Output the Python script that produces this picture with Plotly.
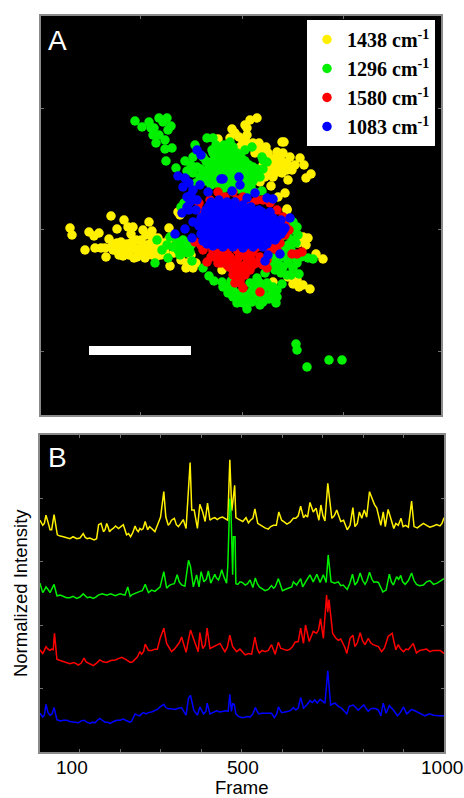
import plotly.graph_objects as go

# Panel A: emission-site positions (arbitrary image units)
sites_1438 = [(29,187),(31,180),(44,165),(48,183),(53,179),(58,182),(54,167),(60,167),(65,158),(68,176),(70,199),(83,195),(76,186),(87,188),(92,188),(108,193),(90,181),(105,180),(111,184),(128,187),(72,165),(76,172),(82,168),(82,159),(89,165),(93,157),(91,173),(99,167),(106,170),(104,157),(111,160),(117,177),(129,149),(109,165),(74,165),(96,165),(102,163),
 (78,164),(85,162),(92,168),(99,160),(106,163),(113,168),(118,165),(122,172),(120,160),(115,158),(95,175),(100,175),(86,171),(78,160),(70,168),(64,167),(74,171),(80,173),(88,160),(96,158),(110,172),(116,170),(124,163),(128,176),(132,180),(112,178),(102,185),
 (275,161),(282,156),(269,126),(262,130),(252,131),(256,135),(247,138),(267,177),(262,178),(257,172),(246,205),(146,152),(152,147),(137,203),(139,200),(181,145),(232,133),(125,170),(133,162),(140,155),(150,160),(145,147),(155,152),(260,175),(265,170),(258,128),
 (216,297),(209,295),(204,290),(206,287),(191,286),(194,282),(206,280),(177,276),(189,277),(202,273),(243,273),(241,273),(211,268),(199,268),(219,265),(227,262),(236,263),(242,262),(259,257),(249,258),(263,250),(254,250),(270,241),(265,237),(247,235),(229,243),(232,238),(241,242),(246,252),(236,252),(230,229),(244,222),(237,218),(246,206),(219,233),(212,272),(234,257),(226,245),(239,248),
 (222,258),(228,254),(233,248),(240,255),(246,245),(251,245),(224,238),(214,262),(206,272),(218,272),(198,278),(225,268),(236,243),(243,248),(222,250)]
sites_1296 = [(94,294),(101,288),(108,293),(113,287),(118,297),(126,297),(130,289),(127,285),(112,280),(115,272),(124,275),(131,267),(124,266),(125,254),(135,247),(154,270),(166,277),(172,277),(110,287),(122,293),(118,280),
 (175,270),(183,270),(189,273),(172,262),(180,262),(188,262),(196,262),(165,254),(172,254),(180,254),(188,254),(196,254),(204,254),(160,246),(168,246),(176,246),(184,246),(192,246),(200,246),(208,246),(216,246),(160,238),(168,238),(176,238),(184,238),(192,238),(200,238),(208,238),(216,238),(170,230),(178,230),(186,230),(194,230),(202,230),(210,230),(205,222),(215,222),
 (186,266),(192,268),(176,266),(184,258),(192,258),(176,258),(200,258),(168,250),(176,250),(184,250),(192,250),(200,250),(208,250),(164,242),(172,242),(180,242),(188,242),(196,242),(204,242),(212,242),(164,234),(172,234),(180,234),(188,234),(196,234),(204,234),(212,234),(182,226),(190,226),(198,226),(206,226),
 (144,254),(152,258),(156,248),(152,242),(159,238),(171,265),(162,258),(222,255),(221,258),(226,253),(219,238),(212,248),(204,265),(211,268),(211,225),(221,224),(150,250),(146,244),(155,232),(222,246),
 (256,188),(257,180),(252,185),(251,175),(242,168),(234,155),(242,158),(251,158),(242,148),(252,147),(234,145),(258,141),(241,131),(267,157),(272,156),(229,150),(246,140),(250,165),(240,178),(247,195),
 (247,170),(255,172),(245,163),(237,160),(229,158),(247,152),(256,152),(260,158),(238,150),(246,180),(252,193),(240,142),(250,140),(224,142),
 (162,147),(168,139),(173,134),(181,133),(182,128),(187,122),(192,118),(196,112),(202,112),(206,106),(211,113),(219,110),(222,113),(235,112),(236,118),(231,122),(226,132),(219,132),(209,132),(209,122),(199,122),(222,122),(216,118),(206,117),(229,128),(216,137),(192,125),
 (186,128),(192,130),(198,116),(204,120),(212,126),(216,126),(224,128),(228,116),(226,118),(214,132),(232,128),(236,125),(206,112),(190,134),
 (116,175),(121,165),(126,170),(114,152),(127,157),(136,173),(142,175),(129,178),(137,165),(146,162),(151,154),(149,163),(139,160),(146,172),(140,208),(143,212),(142,168),(132,168),(150,170),
 (255,71),(256,65),(288,55),(301,55),(266,48)]
sites_1580 = [(177,223),(192,223),(169,215),(202,218),(216,215),(229,212),(242,198),(184,218),(210,212),(167,207),(169,202),(236,205),(158,205),(160,195),
 (199,132),(202,127),(219,123),(194,132),(251,161),(256,161),(261,163),(226,147),(166,153),(177,152),(186,150),(192,145),(199,142),(209,145),(216,152),(202,148),(189,158),(176,162),(162,165),(206,157),(219,158),(196,153),(182,157),(239,172),(244,180),(236,165),(154,173),(199,135),(170,158),(226,155),(212,163),(196,165),(182,165),(168,170),
 (160,170),(172,164),(180,152),(188,148),(196,148),(204,140),(212,150),(222,150),(192,140),(174,158),(186,164),(204,164),(216,168),(228,165),(230,170),(234,172),(198,158),(210,156),(190,152),(204,150),(248,185),(244,190),(158,212),(222,215),(176,210),(196,215)]
sites_1083 = [(146,218),(152,225),(159,230),(167,223),(156,265),(160,260),(137,239),(144,237),(142,228),(182,236),(198,238),(199,230),(191,224),(214,222),(206,217),(226,217),(232,216),(249,197),(149,213),(141,202),(146,208),(156,215),(134,181),(151,177),(144,186),(152,193),(239,161),(224,154),(227,160),(180,236),(148,232),(150,220),(155,205),(148,205),
 (170,213),(178,215),(186,213),(194,213),(202,210),(210,208),(218,205),(165,205),(173,205),(181,205),(189,205),(197,205),(205,203),(213,200),(221,203),(229,203),
 (160,197),(168,197),(176,197),(184,197),(192,197),(200,197),(208,197),(216,197),(224,197),(232,197),(240,195),
 (158,189),(166,189),(174,189),(182,189),(190,189),(198,189),(206,189),(214,189),(222,189),(230,189),(238,189),(244,187),
 (160,181),(168,181),(176,181),(184,181),(192,181),(200,181),(208,181),(216,181),(224,181),(232,181),(240,181),
 (162,174),(170,174),(178,174),(186,174),(194,174),(202,174),(210,174),(218,174),(226,174),(234,175),
 (172,169),(182,168),(192,168),(202,167),(212,168),(222,168),
 (168,209),(176,209),(184,209),(192,209),(200,206),(208,204),(216,201),(164,201),(172,201),(180,201),(188,201),(196,201),(204,199),(212,193),(220,193),(228,193),(236,193),(164,193),(172,193),(180,193),(188,193),(196,193),(204,193),
 (162,185),(170,185),(178,185),(186,185),(194,185),(202,185),(210,185),(218,185),(226,185),(234,185),(242,184),(164,178),(172,178),(180,178),(188,178),(196,178),(204,178),(212,178),(220,178),(228,178),(236,178),(166,171),(176,171),(186,171),(196,171),(206,171),(216,171),(226,171)]
scale_bar_x = [48, 150]
scale_bar_y = [60, 69]

legend_names = ["1438 cm<sup>-1</sup>", "1296 cm<sup>-1</sup>", "1580 cm<sup>-1</sup>", "1083 cm<sup>-1</sup>"]
colors = ["#fff000", "#00f000", "#ff0000", "#0000ff"]

# Panel B: spectra (frame, normalized intensity with vertical offsets)
frames_yellow = [2,9,17,27,31,37,45,60,76,93,109,119,130,142,147,153,159,167,174,183,196,208,216,226,237,245,253,262,268,278,286,295,300,308,313,319,327,334,344,356,363,369,373,377,383,391,397,404,410,416,422,434,447,459,466,471,476,483,486,496,511,517,528,533,540,550,566,579,586,592,599,612,628,640,646,653,663,669,677,684,691,696,706,713,723,735,745,752,761,768,775,780,791,797,803,809,816,823,834,844,850,855,862,868,876,887,894,899,912,920,926,942,957,974,990,1000]
yellow = [3.65,3.57,3.73,3.5,3.5,3.74,3.42,3.39,3.36,3.36,3.44,3.36,3.35,3.36,3.58,3.6,3.47,3.6,3.47,3.52,3.52,3.58,3.42,3.39,3.56,3.47,3.5,3.63,3.5,3.52,3.47,3.63,3.7,4.1,3.7,3.57,3.65,3.68,3.55,3.66,3.52,4.26,4.56,3.81,3.81,3.52,3.9,3.78,3.63,3.92,3.65,3.69,3.69,3.68,3.65,4.6,3.8,4.2,3.69,3.65,3.69,3.61,3.68,3.83,3.6,3.56,3.51,3.57,3.57,3.78,3.65,3.59,3.68,3.72,3.87,3.69,3.7,3.93,3.78,3.84,3.65,3.89,3.64,4.23,3.68,3.81,3.63,3.65,3.5,3.57,3.85,3.55,3.78,3.68,3.81,3.7,4.1,3.99,3.84,3.57,3.78,3.55,3.82,3.68,3.52,3.57,3.68,3.55,3.54,3.95,3.55,3.57,3.57,3.56,3.56,3.69]
frames_yellow_fine = [13,22,52,68,84,101,114,125,136,163,170,178,189,202,212,221,231,241,249,257,273,282,291,323,339,350,428,440,453,491,503,522,545,558,572,606,620,634,658,701,729,740,786,828,839,881,905,934,949,965,982,995]
yellow_fine = [3.6,3.62,3.4,3.38,3.39,3.37,3.38,3.37,3.34,3.5,3.55,3.5,3.56,3.55,3.5,3.44,3.45,3.5,3.52,3.52,3.55,3.5,3.55,3.6,3.58,3.6,3.68,3.66,3.7,3.67,3.63,3.65,3.58,3.53,3.55,3.62,3.62,3.68,3.73,3.72,3.72,3.7,3.6,3.9,3.7,3.6,3.57,3.53,3.6,3.54,3.58,3.6]
frames_green = [2,9,17,27,37,44,60,76,93,109,119,134,146,167,188,212,219,225,237,249,262,270,286,299,308,315,327,341,352,360,369,374,381,389,395,400,407,418,424,434,443,451,463,466,471,474,478,480,484,486,496,509,521,528,534,544,558,574,583,591,601,624,628,646,651,669,677,686,694,702,709,714,721,739,751,761,774,780,793,805,816,827,838,849,857,865,875,883,893,904,920,932,949,965,983,1000]
green = [2.66,2.51,2.6,2.51,2.64,2.46,2.45,2.43,2.42,2.49,2.43,2.42,2.47,2.47,2.46,2.47,2.6,2.45,2.5,2.53,2.64,2.51,2.53,2.6,2.84,2.58,2.64,2.79,2.63,2.61,3.02,2.92,2.6,2.79,2.6,2.84,2.68,2.85,2.66,2.8,2.71,2.87,2.66,2.92,3.99,3.78,2.79,3.39,3.39,2.65,2.68,2.63,2.71,2.59,2.74,2.6,2.54,2.62,2.6,2.73,2.54,2.6,2.68,2.73,2.6,2.79,2.68,2.8,2.67,2.79,2.67,3.1,2.68,2.68,2.63,2.56,2.8,2.63,2.82,2.64,2.83,2.67,2.67,2.52,2.55,2.8,2.63,2.76,2.78,2.64,2.82,2.64,2.63,2.7,2.66,2.73]
frames_green_fine = [13,22,52,68,84,101,126,140,156,177,200,230,243,255,278,292,321,334,346,413,429,438,447,457,491,502,515,539,551,566,579,596,612,636,660,730,745,767,786,799,810,822,832,843,870,888,898,912,926,940,957,974,991]
green_fine = [2.55,2.56,2.47,2.43,2.45,2.44,2.44,2.44,2.49,2.49,2.49,2.48,2.52,2.54,2.55,2.56,2.62,2.65,2.68,2.72,2.72,2.74,2.78,2.75,2.64,2.67,2.65,2.65,2.57,2.56,2.58,2.63,2.57,2.63,2.7,2.66,2.62,2.65,2.68,2.7,2.7,2.72,2.68,2.6,2.68,2.72,2.68,2.7,2.7,2.62,2.68,2.64,2.7]
frames_red = [2,9,17,27,35,38,44,60,76,97,111,122,134,150,167,188,204,225,237,249,258,262,270,286,299,308,315,327,340,352,363,369,374,385,393,397,404,415,422,438,447,459,471,478,488,496,509,525,533,544,558,574,583,591,603,620,632,640,646,653,658,667,677,685,695,702,710,713,716,725,739,750,760,768,775,780,793,805,813,825,838,846,862,872,881,887,900,912,924,932,949,965,982,1000]
red = [1.61,1.55,1.66,1.6,1.61,1.87,1.46,1.42,1.39,1.37,1.48,1.4,1.36,1.45,1.41,1.45,1.49,1.41,1.46,1.58,1.58,1.7,1.6,1.62,1.79,1.95,1.71,1.58,1.68,1.81,1.57,1.77,1.92,1.72,1.58,1.88,1.63,1.95,1.63,1.68,1.71,1.58,1.84,1.66,1.58,1.62,1.53,1.54,1.81,1.56,1.58,1.69,1.54,1.73,1.62,1.62,1.73,1.74,1.95,1.71,2.0,1.74,1.9,1.87,2.1,1.79,2.47,2.2,2.4,1.87,1.76,1.71,1.55,1.79,1.84,1.66,1.88,1.69,1.79,1.69,1.66,1.58,1.82,1.87,1.61,1.69,1.58,1.61,1.71,1.56,1.61,1.58,1.6,1.55]
frames_red_fine = [13,22,31,52,68,86,104,116,128,142,158,177,196,214,231,243,253,278,292,321,334,346,410,430,453,465,503,517,539,551,566,597,612,626,672,690,732,745,755,786,799,819,832,853,877,893,906,918,940,957,974,991]
red_fine = [1.6,1.62,1.62,1.44,1.4,1.41,1.4,1.42,1.37,1.4,1.42,1.44,1.47,1.46,1.42,1.5,1.54,1.6,1.62,1.65,1.62,1.72,1.68,1.66,1.64,1.65,1.58,1.55,1.62,1.6,1.6,1.63,1.6,1.66,1.82,1.92,1.8,1.78,1.65,1.72,1.75,1.72,1.68,1.64,1.72,1.62,1.62,1.66,1.6,1.62,1.6,1.6]
frames_blue = [2,9,17,27,37,44,60,76,97,111,126,138,150,163,175,192,208,220,228,237,249,258,270,286,299,308,319,335,352,363,369,374,382,391,397,406,415,422,438,455,467,471,475,478,482,486,496,509,521,528,534,542,558,574,581,591,599,616,628,640,646,653,661,669,681,687,694,706,713,720,731,747,760,766,776,788,802,813,825,838,844,850,857,865,875,885,900,908,920,937,953,974,1000]
blue = [0.61,0.55,0.75,0.58,0.7,0.51,0.5,0.48,0.46,0.5,0.45,0.46,0.53,0.47,0.45,0.5,0.52,0.48,0.48,0.6,0.57,0.62,0.62,0.65,0.71,0.75,0.68,0.67,0.7,0.58,0.85,0.89,0.66,0.58,0.71,0.6,0.77,0.6,0.65,0.64,0.64,0.91,0.64,0.76,0.75,0.6,0.55,0.55,0.55,0.6,0.7,0.6,0.61,0.61,0.54,0.71,0.62,0.64,0.7,0.69,0.86,0.69,0.74,0.81,0.82,0.77,0.83,0.77,1.28,0.74,0.77,0.69,0.6,0.72,0.74,0.66,0.74,0.64,0.69,0.66,0.57,0.77,0.61,0.73,0.66,0.57,0.71,0.6,0.67,0.62,0.57,0.58,0.57]
frames_blue_fine = [13,22,32,52,68,86,104,118,132,144,156,169,184,200,214,224,232,243,253,264,278,292,313,327,344,358,412,430,447,461,491,503,515,550,566,587,607,622,634,675,700,726,739,754,782,795,808,819,832,892,914,928,945,964,987]
blue_fine = [0.58,0.62,0.6,0.49,0.5,0.47,0.49,0.47,0.47,0.5,0.5,0.47,0.48,0.5,0.5,0.47,0.54,0.58,0.6,0.6,0.63,0.67,0.7,0.68,0.69,0.63,0.64,0.63,0.63,0.65,0.57,0.54,0.56,0.61,0.6,0.6,0.63,0.66,0.66,0.78,0.8,0.76,0.72,0.64,0.7,0.7,0.68,0.68,0.68,0.62,0.63,0.65,0.59,0.6,0.57]

frame_ticks = [100,200,300,400,500,600,700,800,900,1000]
frame_labels = ["100","500","1000"]
frame_label_pos = [100,500,1000]
frame_label_shift = [-8,1,-2]
intensity_ticks = [0,1,2,3,4,5]
x_axis_title = "Frame"
y_axis_title = "Normalized Intensity"

W, H = 464, 798
fig = go.Figure()
for pts, name, col in zip([sites_1438, sites_1296, sites_1580, sites_1083], legend_names, colors):
    fig.add_trace(go.Scatter(x=[p[0] for p in pts], y=[p[1] for p in pts], mode="markers",
                             name=f"<b>{name}</b>", marker=dict(color=col, size=9.5, line=dict(width=0)),
                             xaxis="x", yaxis="y"))
series = [(frames_yellow, yellow, frames_yellow_fine, yellow_fine),
          (frames_green, green, frames_green_fine, green_fine),
          (frames_red, red, frames_red_fine, red_fine),
          (frames_blue, blue, frames_blue_fine, blue_fine)]
for (fa, va, fb, vb), col in zip(series, colors):
    merged = sorted(zip(fa + fb, va + vb))
    fig.add_trace(go.Scatter(x=[m[0] for m in merged], y=[m[1] for m in merged], mode="lines",
                             line=dict(color=col, width=1.5), showlegend=False, xaxis="x2", yaxis="y2"))

fig.add_shape(type="rect", xref="x", yref="y", x0=scale_bar_x[0], x1=scale_bar_x[1],
              y0=scale_bar_y[0], y1=scale_bar_y[1], fillcolor="white", line=dict(width=0))

ax = dict(showgrid=False, zeroline=False, showline=True, linecolor="#8a8a8a", linewidth=2, mirror="allticks",
          ticks="inside", ticklen=3, tickcolor="#707070", tickwidth=1, showticklabels=False)
fig.update_layout(
    width=W, height=H, autosize=False, margin=dict(l=0, r=0, t=0, b=0),
    paper_bgcolor="white", plot_bgcolor="black", showlegend=True,
    font=dict(family="Liberation Sans", color="black"),
    xaxis=dict(ax, domain=[41/W, 441/W], range=[0, 400], tickmode="array", tickvals=[99, 201, 302]),
    yaxis=dict(ax, domain=[1-415/H, 1-16/H], range=[0, 399], tickmode="array", tickvals=[64, 186, 307]),
    xaxis2=dict(ax, domain=[39.5/W, 444/W], range=[1, 1000], tickmode="array", tickvals=frame_ticks, anchor="y2",
                title=dict(text=x_axis_title, font=dict(size=18.5), standoff=34)),
    yaxis2=dict(ax, domain=[1-752/H, 1-434.5/H], range=[0, 5], tickmode="array", tickvals=intensity_ticks, anchor="x2",
                title=dict(text=y_axis_title, font=dict(size=18.5), standoff=5)),
    legend=dict(x=307/W, y=1-20/H, xanchor="left", yanchor="top", bgcolor="white",
                font=dict(family="Liberation Serif", size=20, color="black"), itemsizing="trace",
                itemwidth=30, traceorder="normal"),
)
fig.add_annotation(text="A", xref="paper", yref="paper", x=47/W, y=1-24/H, xanchor="left", yanchor="top",
                   showarrow=False, font=dict(size=28, color="white"), borderpad=0)
fig.add_annotation(text="B", xref="paper", yref="paper", x=47/W, y=1-441/H, xanchor="left", yanchor="top",
                   showarrow=False, font=dict(size=28, color="white"), borderpad=0)
for lab, pos, sh in zip(frame_labels, frame_label_pos, frame_label_shift):
    fig.add_annotation(text=lab, xref="x2", yref="paper", x=pos, y=1-755/H, xshift=sh, yanchor="top",
                       showarrow=False, font=dict(size=19, color="black"))

fig.write_html("out.html", post_script="document.body.style.margin='0';", config={"displayModeBar": False})
